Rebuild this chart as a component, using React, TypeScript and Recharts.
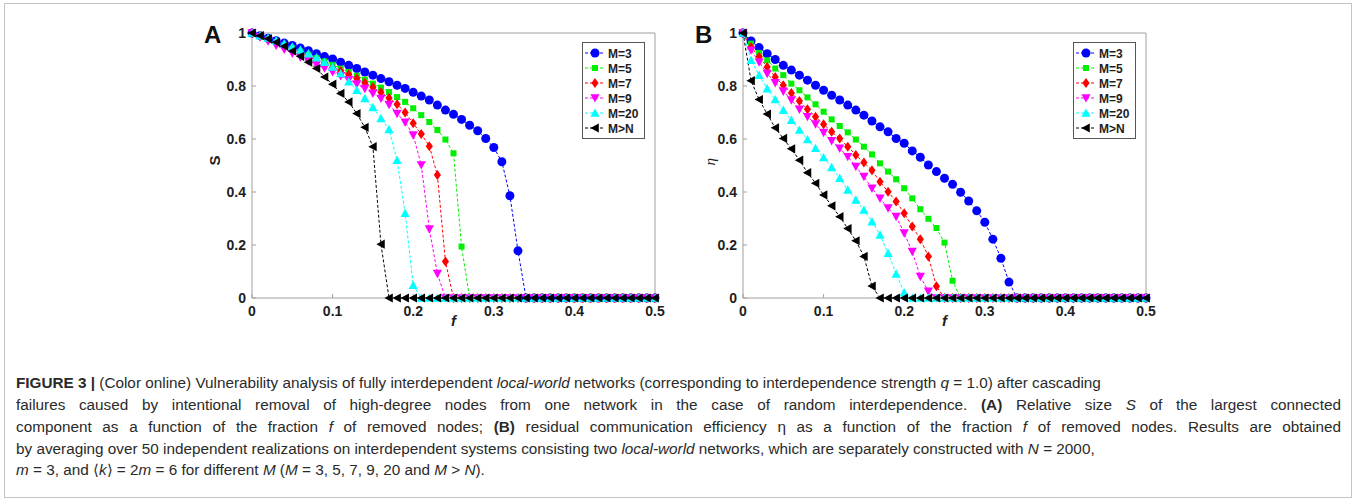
import React from "react";
import { LineChart, Line, XAxis, YAxis } from "recharts";

// fraction f of removed nodes
const F = [
  0, 0.01, 0.02, 0.03, 0.04, 0.05, 0.06, 0.07, 0.08, 0.09,
  0.1, 0.11, 0.12, 0.13, 0.14, 0.15, 0.16, 0.17, 0.18, 0.19,
  0.2, 0.21, 0.22, 0.23, 0.24, 0.25, 0.26, 0.27, 0.28, 0.29,
  0.3, 0.31, 0.32, 0.33, 0.34, 0.35, 0.36, 0.37, 0.38, 0.39,
  0.4, 0.41, 0.42, 0.43, 0.44, 0.45, 0.46, 0.47, 0.48, 0.49, 0.5,
];

const X_TICKS = [0, 0.1, 0.2, 0.3, 0.4, 0.5];
const Y_TICKS = [0, 0.2, 0.4, 0.6, 0.8, 1];
const LABELS = ["M=3", "M=5", "M=7", "M=9", "M=20", "M>N"];

// panel A: relative size S of the largest component
const S_M3 = [
  1, 0.99, 0.98, 0.971, 0.962, 0.953, 0.943, 0.933, 0.922, 0.911,
  0.902, 0.89, 0.878, 0.866, 0.853, 0.841, 0.828, 0.816, 0.803, 0.791,
  0.776, 0.762, 0.747, 0.728, 0.709, 0.693, 0.674, 0.652, 0.631, 0.602,
  0.568, 0.514, 0.386, 0.178, 0, 0, 0, 0, 0, 0,
  0, 0, 0, 0, 0, 0, 0, 0, 0, 0, 0,
];
const S_M5 = [
  1, 0.988, 0.977, 0.966, 0.954, 0.942, 0.93, 0.918, 0.905, 0.893,
  0.88, 0.866, 0.853, 0.839, 0.824, 0.809, 0.794, 0.777, 0.758, 0.74,
  0.716, 0.69, 0.664, 0.634, 0.598, 0.546, 0.194, 0, 0, 0,
  0, 0, 0, 0, 0, 0, 0, 0, 0, 0,
  0, 0, 0, 0, 0, 0, 0, 0, 0, 0, 0,
];
const S_M7 = [
  1, 0.988, 0.975, 0.962, 0.95, 0.937, 0.924, 0.911, 0.898, 0.884,
  0.87, 0.857, 0.843, 0.828, 0.812, 0.795, 0.776, 0.755, 0.731, 0.7,
  0.659, 0.619, 0.573, 0.464, 0.138, 0, 0, 0, 0, 0,
  0, 0, 0, 0, 0, 0, 0, 0, 0, 0,
  0, 0, 0, 0, 0, 0, 0, 0, 0, 0, 0,
];
const S_M9 = [
  1, 0.985, 0.969, 0.953, 0.938, 0.923, 0.909, 0.895, 0.881, 0.867,
  0.853, 0.838, 0.823, 0.807, 0.79, 0.772, 0.753, 0.73, 0.696, 0.663,
  0.615, 0.502, 0.26, 0.092, 0, 0, 0, 0, 0, 0,
  0, 0, 0, 0, 0, 0, 0, 0, 0, 0,
  0, 0, 0, 0, 0, 0, 0, 0, 0, 0, 0,
];
const S_M20 = [
  1, 0.99, 0.981, 0.971, 0.96, 0.948, 0.936, 0.922, 0.907, 0.89,
  0.872, 0.847, 0.816, 0.784, 0.753, 0.719, 0.678, 0.636, 0.52, 0.32,
  0.048, 0, 0, 0, 0, 0, 0, 0, 0, 0,
  0, 0, 0, 0, 0, 0, 0, 0, 0, 0,
  0, 0, 0, 0, 0, 0, 0, 0, 0, 0, 0,
];
const S_MN = [
  1, 0.99, 0.978, 0.965, 0.95, 0.932, 0.912, 0.89, 0.866, 0.834,
  0.807, 0.772, 0.74, 0.696, 0.644, 0.571, 0.203, 0, 0, 0,
  0, 0, 0, 0, 0, 0, 0, 0, 0, 0,
  0, 0, 0, 0, 0, 0, 0, 0, 0, 0,
  0, 0, 0, 0, 0, 0, 0, 0, 0, 0, 0,
];

// panel B: residual communication efficiency eta
const E_M3 = [
  1, 0.97, 0.945, 0.922, 0.9, 0.878, 0.86, 0.841, 0.822, 0.803,
  0.784, 0.765, 0.747, 0.728, 0.709, 0.69, 0.668, 0.646, 0.627, 0.602,
  0.584, 0.555, 0.531, 0.502, 0.477, 0.452, 0.429, 0.399, 0.366, 0.329,
  0.286, 0.222, 0.15, 0.06, 0, 0, 0, 0, 0, 0,
  0, 0, 0, 0, 0, 0, 0, 0, 0, 0, 0,
];
const E_M5 = [
  1, 0.96, 0.925, 0.897, 0.866, 0.841, 0.809, 0.784, 0.757, 0.731,
  0.703, 0.674, 0.649, 0.625, 0.598, 0.571, 0.542, 0.508, 0.477, 0.448,
  0.414, 0.376, 0.335, 0.299, 0.264, 0.209, 0.065, 0, 0, 0,
  0, 0, 0, 0, 0, 0, 0, 0, 0, 0,
  0, 0, 0, 0, 0, 0, 0, 0, 0, 0, 0,
];
const E_M7 = [
  1, 0.947, 0.91, 0.872, 0.834, 0.803, 0.774, 0.743, 0.712, 0.684,
  0.656, 0.627, 0.602, 0.571, 0.54, 0.511, 0.482, 0.439, 0.401, 0.364,
  0.32, 0.27, 0.222, 0.157, 0.044, 0, 0, 0, 0, 0,
  0, 0, 0, 0, 0, 0, 0, 0, 0, 0,
  0, 0, 0, 0, 0, 0, 0, 0, 0, 0, 0,
];
const E_M9 = [
  1, 0.935, 0.89, 0.847, 0.812, 0.78, 0.747, 0.712, 0.684, 0.656,
  0.624, 0.593, 0.565, 0.533, 0.496, 0.458, 0.414, 0.376, 0.339, 0.307,
  0.245, 0.175, 0.081, 0.025, 0, 0, 0, 0, 0, 0,
  0, 0, 0, 0, 0, 0, 0, 0, 0, 0,
  0, 0, 0, 0, 0, 0, 0, 0, 0, 0, 0,
];
const E_M20 = [
  1, 0.897, 0.841, 0.79, 0.749, 0.709, 0.671, 0.634, 0.598, 0.565,
  0.53, 0.493, 0.452, 0.408, 0.37, 0.332, 0.288, 0.238, 0.169, 0.091,
  0.02, 0, 0, 0, 0, 0, 0, 0, 0, 0,
  0, 0, 0, 0, 0, 0, 0, 0, 0, 0,
  0, 0, 0, 0, 0, 0, 0, 0, 0, 0, 0,
];
const E_MN = [
  1, 0.82, 0.749, 0.694, 0.642, 0.602, 0.563, 0.52, 0.473, 0.433,
  0.389, 0.348, 0.307, 0.262, 0.216, 0.157, 0.045, 0, 0, 0,
  0, 0, 0, 0, 0, 0, 0, 0, 0, 0,
  0, 0, 0, 0, 0, 0, 0, 0, 0, 0,
  0, 0, 0, 0, 0, 0, 0, 0, 0, 0, 0,
];

type Kind = "circle" | "square" | "diamond" | "down" | "up" | "left";

const KEYS = ["m3", "m5", "m7", "m9", "m20", "mn"];
const COLORS = ["#0000ff", "#00ee00", "#ff0000", "#ff00ff", "#00ffff", "#000000"];
const KINDS: Kind[] = ["circle", "square", "diamond", "down", "up", "left"];

const dataA = F.map((f, i) => ({
  f,
  m3: S_M3[i],
  m5: S_M5[i],
  m7: S_M7[i],
  m9: S_M9[i],
  m20: S_M20[i],
  mn: S_MN[i],
}));

const dataB = F.map((f, i) => ({
  f,
  m3: E_M3[i],
  m5: E_M5[i],
  m7: E_M7[i],
  m9: E_M9[i],
  m20: E_M20[i],
  mn: E_MN[i],
}));

const AXIS_COLOR = "#a0a0a0";
const TEXT_COLOR = "#1e1e1e";
const FONT = "'Liberation Sans', Arial, sans-serif";

function Marker({ kind, cx, cy, color }: { kind: Kind; cx: number; cy: number; color: string }) {
  switch (kind) {
    case "circle":
      return <circle cx={cx} cy={cy} r={4.5} fill={color} />;
    case "square":
      return <rect x={cx - 3} y={cy - 3} width={6} height={6} fill={color} />;
    case "diamond":
      return (
        <polygon
          points={`${cx},${cy - 5} ${cx + 3.6},${cy} ${cx},${cy + 5} ${cx - 3.6},${cy}`}
          fill={color}
        />
      );
    case "down":
      return (
        <polygon
          points={`${cx - 4.6},${cy - 3.8} ${cx + 4.6},${cy - 3.8} ${cx},${cy + 4.6}`}
          fill={color}
        />
      );
    case "up":
      return (
        <polygon
          points={`${cx - 4.6},${cy + 3.8} ${cx + 4.6},${cy + 3.8} ${cx},${cy - 4.6}`}
          fill={color}
        />
      );
    default:
      return (
        <polygon
          points={`${cx + 3.8},${cy - 4.6} ${cx + 3.8},${cy + 4.6} ${cx - 4.6},${cy}`}
          fill={color}
        />
      );
  }
}

function LegendBox() {
  return (
    <svg width={64} height={98} style={{ position: "absolute", left: 382, top: 27 }}>
      <rect x={0.5} y={0.5} width={62} height={96} fill="#fff" stroke="#555" />
      {LABELS.map((label, i) => {
        const y = 11 + i * 15;
        return (
          <g key={label}>
            <line x1={3} x2={23} y1={y} y2={y} stroke={COLORS[i]} strokeDasharray="3 2" />
            <Marker kind={KINDS[i]} cx={13} cy={y} color={COLORS[i]} />
            <text
              x={26}
              y={y + 4.5}
              fontFamily={FONT}
              fontWeight="bold"
              fontSize={12}
              fill={TEXT_COLOR}
            >
              {label}
            </text>
          </g>
        );
      })}
    </svg>
  );
}

const tickStyle = { fill: TEXT_COLOR, fontSize: 14, fontWeight: "bold", fontFamily: FONT };

function Panel({
  left,
  data,
  letter,
  yLabel,
  yLabelOffset,
  yLabelStyle,
}: {
  left: number;
  data: Record<string, number>[];
  letter: string;
  yLabel: string;
  yLabelOffset: number;
  yLabelStyle: Record<string, string | number>;
}) {
  return (
    <div style={{ position: "absolute", left, top: 15, width: 470, height: 320 }}>
      <LineChart width={470} height={320} data={data} margin={{ top: 17, right: 14, bottom: 7, left: 12 }}>
        <XAxis
          xAxisId="b"
          dataKey="f"
          type="number"
          domain={[0, 0.5]}
          ticks={X_TICKS}
          interval={0}
          height={30}
          stroke={AXIS_COLOR}
          tickSize={-4}
          tickMargin={12}
          tick={tickStyle}
          label={{
            value: "f",
            position: "insideBottom",
            offset: 2,
            style: { fill: TEXT_COLOR, fontSize: 15, fontWeight: "bold", fontStyle: "italic", fontFamily: FONT },
          }}
        />
        <XAxis
          xAxisId="t"
          orientation="top"
          dataKey="f"
          type="number"
          domain={[0, 0.5]}
          ticks={X_TICKS}
          interval={0}
          height={1}
          stroke={AXIS_COLOR}
          tickSize={-4}
          tick={false}
        />
        <YAxis
          yAxisId="l"
          type="number"
          domain={[0, 1]}
          ticks={Y_TICKS}
          interval={0}
          width={40}
          stroke={AXIS_COLOR}
          tickSize={-4}
          tickMargin={10}
          tick={tickStyle}
          label={{
            value: yLabel,
            angle: -90,
            position: "insideLeft",
            offset: yLabelOffset,
            style: yLabelStyle,
          }}
        />
        <YAxis
          yAxisId="r"
          orientation="right"
          type="number"
          domain={[0, 1]}
          ticks={Y_TICKS}
          interval={0}
          width={1}
          stroke={AXIS_COLOR}
          tickSize={-4}
          tick={false}
        />
        {KEYS.map((k, i) => (
          <Line
            key={k}
            xAxisId="b"
            yAxisId="l"
            type="linear"
            dataKey={k}
            stroke={COLORS[i]}
            strokeWidth={1}
            strokeDasharray="3 2"
            activeDot={false}
            isAnimationActive={false}
            dot={(p: any) => (
              <Marker key={`${k}-${p.index}`} kind={KINDS[i]} cx={p.cx} cy={p.cy} color={COLORS[i]} />
            )}
          />
        ))}
      </LineChart>
      <LegendBox />
      <div
        style={{
          position: "absolute",
          left: 4,
          top: 8,
          fontFamily: FONT,
          fontWeight: "bold",
          fontSize: 24,
          lineHeight: "24px",
          color: "#111",
        }}
      >
        {letter}
      </div>
    </div>
  );
}

const I = ({ children }: { children: React.ReactNode }) => <i>{children}</i>;
const B = ({ children }: { children: React.ReactNode }) => <b>{children}</b>;

const lineStyle: React.CSSProperties = {
  position: "absolute",
  left: 16,
  height: 20,
  lineHeight: "20px",
  whiteSpace: "nowrap",
};
const justified: React.CSSProperties = {
  position: "absolute",
  left: 16,
  width: 1325,
  height: 20,
  lineHeight: "20px",
  textAlign: "justify",
  textAlignLast: "justify",
};

export default function App() {
  return (
    <div
      style={{
        position: "absolute",
        left: 0,
        top: 0,
        width: 1354,
        height: 500,
        background: "#fff",
        overflow: "hidden",
      }}
    >
      <div
        style={{
          position: "absolute",
          left: 4,
          top: 3,
          width: 1346,
          height: 493,
          border: "1px solid #c4c4c4",
        }}
      />
      <Panel
        left={200}
        data={dataA}
        letter="A"
        yLabel="S"
        yLabelOffset={3}
        yLabelStyle={{ fill: TEXT_COLOR, fontSize: 15, fontWeight: "bold", fontFamily: FONT }}
      />
      <Panel
        left={691}
        data={dataB}
        letter="B"
        yLabel="η"
        yLabelOffset={7}
        yLabelStyle={{ fill: TEXT_COLOR, fontSize: 15, fontStyle: "italic", fontFamily: "'Liberation Serif', serif" }}
      />
      <div
        style={{
          position: "absolute",
          left: 0,
          top: 0,
          fontFamily: FONT,
          fontSize: 15.3,
          color: "#2a2a2a",
        }}
      >
        <div style={{ ...lineStyle, top: 373 }}>
          <B>FIGURE 3 | </B>(Color online) Vulnerability analysis of fully interdependent <I>local-world</I>{" "}
          networks (corresponding to interdependence strength <I>q</I> = 1.0) after cascading
        </div>
        <div style={{ ...justified, top: 395 }}>
          failures caused by intentional removal of high-degree nodes from one network in the case of random
          interdependence. <B>(A)</B> Relative size <I>S</I> of the largest connected
        </div>
        <div style={{ ...justified, top: 417 }}>
          component as a function of the fraction <I>f</I> of removed nodes; <B>(B)</B> residual communication
          efficiency η as a function of the fraction <I>f</I> of removed nodes. Results are obtained
        </div>
        <div style={{ ...lineStyle, top: 439 }}>
          by averaging over 50 independent realizations on interdependent systems consisting two{" "}
          <I>local-world</I> networks, which are separately constructed with <I>N</I> = 2000,
        </div>
        <div style={{ ...lineStyle, top: 460 }}>
          <I>m</I> = 3, and ⟨<I>k</I>⟩ = 2<I>m</I> = 6 for different <I>M</I> (<I>M</I> = 3, 5, 7, 9, 20 and{" "}
          <I>M</I> &gt; <I>N</I>).
        </div>
      </div>
    </div>
  );
}
